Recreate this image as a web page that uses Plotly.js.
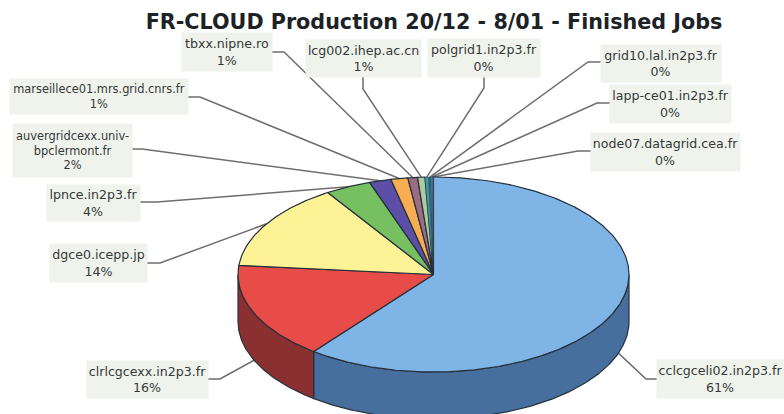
<!DOCTYPE html>
<html>
<head>
<meta charset="utf-8">
<script src="https://cdn.plot.ly/plotly-3.0.1.min.js"></script>
<style>html,body{margin:0;padding:0;background:#fff;overflow:hidden}#chart{width:784px;height:414px}</style>
</head>
<body>
<div id="chart"></div>
<script>
// Finished jobs per site, clockwise from twelve o'clock
const sites = ["cclcgceli02.in2p3.fr","clrlcgcexx.in2p3.fr","dgce0.icepp.jp","lpnce.in2p3.fr",
  "auvergridcexx.univ-<br>bpclermont.fr","marseillece01.mrs.grid.cnrs.fr","tbxx.nipne.ro","lcg002.ihep.ac.cn",
  "polgrid1.in2p3.fr","grid10.lal.in2p3.fr","lapp-ce01.in2p3.fr","node07.datagrid.cea.fr"];
const shares = [60.5,16,14.4,3.8,1.8,1.4,0.8,0.6,0.3,0.2,0.1,0.1];
const percentLabels = ["61%","16%","14%","4%","2%","1%","1%","1%","0%","0%","0%","0%"];
const topColors = ["#7fb4e6","#e84c48","#fdf296","#77c062","#5c4fa8","#f7ae52","#9c6d82","#aecba0","#3f9aa8","#2f6f80","#5aa0b8","#3d7fa8"];
const wallColors = ["#466f9e","#8a3030","#a89f5f","#4d7f3f","#3b3370","#a4733a","#684856","#73866a","#2a6670","#1f4a55","#3c6a7a","#285570"];

// Label box centres and sizes; the two longest names are set a little smaller
const boxX = [720.5,147.5,98.5,93.5,72.5,99,227,363.5,484,661,670.5,665.5];
const boxY = [379,379.5,263,203,150.5,96.5,52,58.5,58,63.5,104,152];
const boxW = [127,121,97,93,119,178,90,115,112,120,121,149];
const boxH = [38,37,38,36,53,35,38,37,38,37,38,38];
const labelSize = [12.6,12.6,12.6,12.6,11.4,11.4,12.6,12.6,12.6,12.6,12.6,12.6];
// Each leader leaves its box at the anchor, then bends at the knee
const anchorX = [657,208,147,140,132,188,272,363,484,601,610,591];
const anchorY = [379,379,263,202,149,97,52,77,77,62,103,151];
const kneeX = [646,220,160,157,142,200,284,363,484,588,597,578];
const kneeY = [379,379,263,202,149,97,52,89,88,62,103,151];

// Pie geometry on a pixel-scaled hidden axis pair
const cx = 433.5, cy = 274.5, rx = 195.5, ry = 97.5, depth = 47;
const total = shares.reduce((a, b) => a + b, 0);
const rim = a => [cx + rx * Math.sin(a), cy - ry * Math.cos(a)];
const arc = (a0, a1) => {
  const n = Math.max(2, Math.ceil((a1 - a0) / 0.01)), out = [];
  for (let i = 0; i <= n; i++) out.push(rim(a0 + (a1 - a0) * i / n));
  return out;
};

const traces = [];
const poly = (pts, fill, w) => traces.push({
  type: "scatter", mode: "lines", x: pts.map(p => p[0]), y: pts.map(p => p[1]),
  fill: "toself", fillcolor: fill, line: {color: "#26303a", width: w},
  hoverinfo: "skip", showlegend: false
});

let start = 0;
const spans = shares.map(v => { const s = [start, start + v / total * 2 * Math.PI]; start = s[1]; return s; });

// Leaders sit under the pie, running from each label to its slice's outer edge
spans.forEach((s, i) => {
  const mid = (s[0] + s[1]) / 2;
  const p = rim(mid);
  const drop = Math.cos(mid) < 0 ? depth : 0;
  traces.push({
    type: "scatter", mode: "lines",
    x: [anchorX[i], kneeX[i], p[0]], y: [anchorY[i], kneeY[i], p[1] + drop],
    line: {color: "#6e6e6e", width: 1.5}, hoverinfo: "skip", showlegend: false
  });
});

// Outer wall: only the front half of the rim is visible
spans.forEach((s, i) => {
  const a0 = Math.max(s[0], Math.PI / 2), a1 = Math.min(s[1], 3 * Math.PI / 2);
  if (a1 <= a0) return;
  const upper = arc(a0, a1);
  const lower = upper.slice().reverse().map(p => [p[0], p[1] + depth]);
  poly(upper.concat(lower, [upper[0]]), wallColors[i], 1.2);
});

// Top face; the slimmest slices get a finer outline so their colour shows
spans.forEach((s, i) => {
  poly([[cx, cy]].concat(arc(s[0], s[1]), [[cx, cy]]), topColors[i], shares[i] < 0.5 ? 0.4 : 1.2);
});

const annotations = sites.map((site, i) => ({
  xref: "x", yref: "y", x: boxX[i], y: boxY[i], xanchor: "center", yanchor: "middle",
  width: boxW[i], height: boxH[i], bgcolor: "#f0f2ec", borderpad: 0, showarrow: false,
  align: "center", valign: "middle",
  text: site + "<br>" + percentLabels[i],
  font: {family: "DejaVu Sans", size: labelSize[i], color: "#333a3a"}
}));

const layout = {
  width: 784, height: 414,
  margin: {l: 0, r: 0, t: 0, b: 0},
  paper_bgcolor: "#ffffff", plot_bgcolor: "#ffffff",
  title: {
    text: "<b>FR-CLOUD Production 20/12 - 8/01 - Finished Jobs</b>",
    x: 434 / 784, xanchor: "center", y: 1 - 22 / 414, yanchor: "middle",
    font: {family: "DejaVu Sans", size: 20.7, color: "#1c2226"}
  },
  xaxis: {range: [0, 784], visible: false, fixedrange: true},
  yaxis: {range: [414, 0], visible: false, fixedrange: true},
  annotations: annotations, showlegend: false
};

Plotly.newPlot("chart", traces, layout, {displayModeBar: false, staticPlot: true});
</script>
</body>
</html>
